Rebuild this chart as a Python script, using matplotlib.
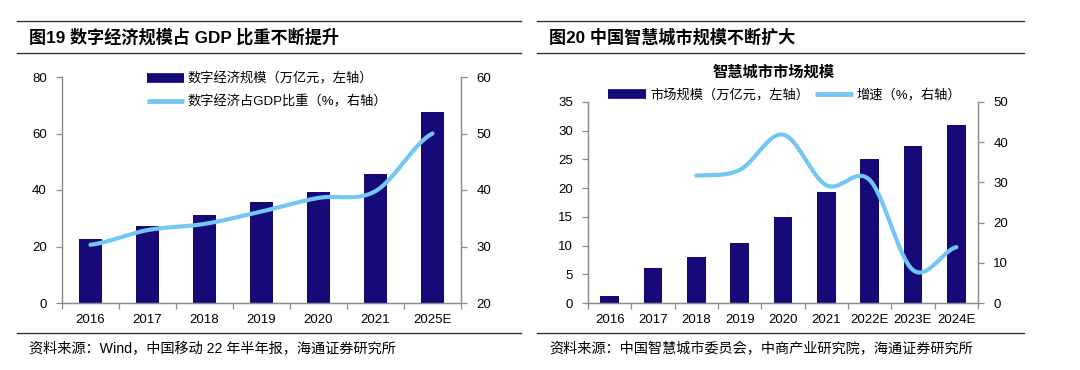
import numpy as np
import matplotlib
matplotlib.use("Agg")
import matplotlib.pyplot as plt
from matplotlib.lines import Line2D

plt.rcParams['font.family'] = ['Liberation Sans', 'Noto Sans CJK SC']

# left chart: digital economy
years_l = ['2016', '2017', '2018', '2019', '2020', '2021', '2025E']
scale_l = [22.6, 27.2, 31.3, 35.8, 39.2, 45.5, 67.5]
share_l = [30.3, 32.9, 34.0, 36.2, 38.6, 39.8, 50.0]

# right chart: smart city market
years_r = ['2016', '2017', '2018', '2019', '2020', '2021', '2022E', '2023E', '2024E']
scale_r = [1.2, 6.1, 8.0, 10.5, 15.0, 19.4, 25.1, 27.3, 31.0]
growth_r = [np.nan, np.nan, 31.7, 33.1, 41.9, 29.3, 30.6, 8.2, 13.9]

BAR = '#150A78'
LINE = '#74C7F5'
AXC = '#8C8C8C'
W, H = 1080, 370
TICK_FS = 9.5


def smooth(x, y, n=30):
    # bezier smoothing like excel's smoothed line (catmull-rom tangents)
    x = np.asarray(x, float)
    y = np.asarray(y, float)
    px = np.concatenate([[2 * x[0] - x[1]], x, [2 * x[-1] - x[-2]]])
    py = np.concatenate([[y[0]], y, [y[-1]]])
    xs, ys = [], []
    t = np.linspace(0, 1, n)
    for i in range(1, len(px) - 2):
        for p, out in ((px, xs), (py, ys)):
            p0, p1, p2, p3 = p[i - 1], p[i], p[i + 1], p[i + 2]
            c1 = p1 + (p2 - p0) / 6
            c2 = p2 - (p3 - p1) / 6
            out.append((1 - t) ** 3 * p1 + 3 * t * (1 - t) ** 2 * c1
                       + 3 * t ** 2 * (1 - t) * c2 + t ** 3 * p2)
    return np.concatenate(xs), np.concatenate(ys)


def pax(x0, y0, x1, y1):
    return fig.add_axes([x0 / W, (H - y1) / H, (x1 - x0) / W, (y1 - y0) / H])


def style(ax, ax2, n):
    for a in (ax, ax2):
        a.spines['top'].set_visible(False)
        for s in ('left', 'right', 'bottom'):
            a.spines[s].set_color(AXC)
            a.spines[s].set_linewidth(0.9)
        a.tick_params(colors=AXC, labelcolor='black', labelsize=TICK_FS, length=4, width=0.9)
    ax.set_xlim(-0.5, n - 0.5)
    ax.set_xticks(np.arange(n))
    ax.tick_params(axis='x', length=0, pad=8)
    ax.set_xticks(np.arange(n + 1) - 0.5, minor=True)
    ax.tick_params(axis='x', which='minor', length=4, width=0.9, colors=AXC)
    ax.tick_params(axis='y', pad=7)
    ax2.tick_params(axis='y', pad=7)


def rule(x0, x1, y):
    fig.add_artist(Line2D([x0 / W, x1 / W], [(H - y) / H] * 2, color='#333333', lw=1.0))


fig = plt.figure(figsize=(10.8, 3.7), dpi=100)

# ---- left panel ----
rule(17, 521, 21)
rule(17, 521, 53)
rule(17, 521, 333)
fig.text(29 / W, (H - 37) / H, '图19 数字经济规模占 GDP 比重不断提升', fontsize=12.3,
         fontweight='bold', va='center', ha='left')
fig.text(29 / W, (H - 349) / H, '资料来源：Wind，中国移动 22 年半年报，海通证券研究所',
         fontsize=10.2, va='center', ha='left')

ax = pax(62, 77, 461, 303)
ax2 = ax.twinx()
xl = np.arange(len(years_l))
ax.bar(xl, scale_l, width=0.42, color=BAR)
ax.set_ylim(0, 80)
ax.set_yticks([0, 20, 40, 60, 80])
ax.set_xticklabels(years_l)
sx, sy = smooth(xl, share_l)
ax2.plot(sx, sy, color=LINE, lw=3, solid_capstyle='round')
ax2.set_ylim(20, 60)
ax2.set_yticks([20, 30, 40, 50, 60])
style(ax, ax2, len(years_l))
ax.legend(handles=[Line2D([], [], color=BAR, lw=7, solid_capstyle='butt'),
                   Line2D([], [], color=LINE, lw=3.5, solid_capstyle='butt')],
          labels=['数字经济规模（万亿元，左轴）', '数字经济占GDP比重（%，右轴）'],
          loc='upper left', bbox_to_anchor=((147 - 62) / 399, 1.02), frameon=False,
          fontsize=9.5, handlelength=2.8, handletextpad=0.3, labelspacing=0.75,
          borderpad=0, borderaxespad=0)

# ---- right panel ----
rule(537, 1024, 21)
rule(537, 1024, 53)
rule(537, 1024, 333)
fig.text(549 / W, (H - 37) / H, '图20 中国智慧城市规模不断扩大', fontsize=12.3,
         fontweight='bold', va='center', ha='left')
fig.text(549 / W, (H - 349) / H, '资料来源：中国智慧城市委员会，中商产业研究院，海通证券研究所',
         fontsize=10.2, va='center', ha='left')
fig.text(774 / W, (H - 72) / H, '智慧城市市场规模', fontsize=11, fontweight='bold',
         va='center', ha='center')

bx = pax(588, 102, 978, 303)
bx2 = bx.twinx()
xr = np.arange(len(years_r))
bx.bar(xr, scale_r, width=0.43, color=BAR)
bx.set_ylim(0, 35)
bx.set_yticks(np.arange(0, 36, 5))
bx.set_xticklabels(years_r)
g = np.array(growth_r)
ok = ~np.isnan(g)
gx, gy = smooth(xr[ok], g[ok])
bx2.plot(gx, gy, color=LINE, lw=3, solid_capstyle='round')
bx2.set_ylim(0, 50)
bx2.set_yticks(np.arange(0, 51, 10))
style(bx, bx2, len(years_r))
bx.legend(handles=[Line2D([], [], color=BAR, lw=7, solid_capstyle='butt'),
                   Line2D([], [], color=LINE, lw=3.5, solid_capstyle='butt')],
          labels=['市场规模（万亿元，左轴）', '增速（%，右轴）'],
          loc='upper left', bbox_to_anchor=((608 - 588) / 390, 1.065), frameon=False,
          fontsize=9.5, ncol=2, handlelength=2.9, handletextpad=0.3, columnspacing=0.4,
          borderpad=0, borderaxespad=0)

fig.savefig('out.png', dpi=100)
